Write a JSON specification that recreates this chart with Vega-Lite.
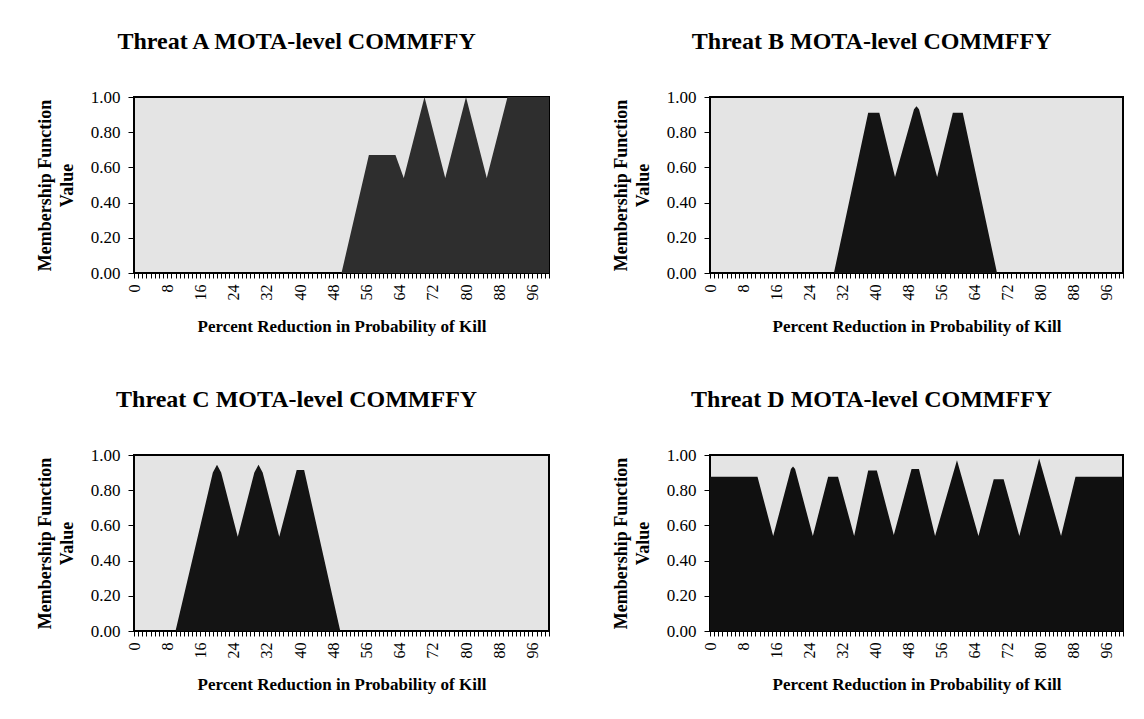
{
  "$schema": "https://vega.github.io/schema/vega-lite/v6.json",
  "background": "white",
  "padding": {"left": 35, "top": 29, "right": 5, "bottom": 5},
  "spacing": {"row": 52, "column": 53},
  "columns": 2,
  "config": {
    "view": {"fill": "#e4e4e4", "stroke": "#000000", "strokeWidth": 2},
    "axis": {
      "labelFont": "Liberation Serif",
      "titleFont": "Liberation Serif",
      "labelColor": "#000000",
      "titleColor": "#000000",
      "domainColor": "#000000",
      "tickColor": "#000000",
      "grid": false,
      "labelFontSize": 17,
      "titleFontWeight": "bold"
    },
    "title": {
      "font": "Liberation Serif",
      "fontSize": 24,
      "fontWeight": "bold",
      "color": "#000000",
      "anchor": "middle",
      "frame": "bounds",
      "offset": 34
    }
  },
  "datasets": {
    "A": [
      {"x": 0, "y": 0}, {"x": 50, "y": 0}, {"x": 56.6, "y": 0.67}, {"x": 63, "y": 0.67},
      {"x": 65, "y": 0.54}, {"x": 70, "y": 1}, {"x": 75, "y": 0.54}, {"x": 80, "y": 1},
      {"x": 85, "y": 0.54}, {"x": 90, "y": 1}, {"x": 100, "y": 1}
    ],
    "B": [
      {"x": 0, "y": 0}, {"x": 30, "y": 0}, {"x": 38.3, "y": 0.91}, {"x": 41, "y": 0.91},
      {"x": 44.8, "y": 0.545}, {"x": 49.4, "y": 0.93}, {"x": 50, "y": 0.947}, {"x": 50.6, "y": 0.93},
      {"x": 55, "y": 0.545}, {"x": 58.8, "y": 0.91}, {"x": 61.2, "y": 0.91}, {"x": 69.5, "y": 0},
      {"x": 100, "y": 0}
    ],
    "C": [
      {"x": 0, "y": 0}, {"x": 10, "y": 0}, {"x": 19, "y": 0.9}, {"x": 20, "y": 0.945},
      {"x": 21, "y": 0.9}, {"x": 25, "y": 0.535}, {"x": 29, "y": 0.9}, {"x": 30, "y": 0.945},
      {"x": 31, "y": 0.9}, {"x": 35, "y": 0.535}, {"x": 39.2, "y": 0.915}, {"x": 41, "y": 0.915},
      {"x": 49.7, "y": 0}, {"x": 100, "y": 0}
    ],
    "D": [
      {"x": 0, "y": 0.877}, {"x": 11.5, "y": 0.877}, {"x": 15.3, "y": 0.54}, {"x": 19.6, "y": 0.92},
      {"x": 20.1, "y": 0.934}, {"x": 20.6, "y": 0.92}, {"x": 24.9, "y": 0.54}, {"x": 28.6, "y": 0.877},
      {"x": 31, "y": 0.877}, {"x": 34.9, "y": 0.54}, {"x": 38.3, "y": 0.912}, {"x": 40.4, "y": 0.912},
      {"x": 44.5, "y": 0.545}, {"x": 48.8, "y": 0.92}, {"x": 50.6, "y": 0.92}, {"x": 54.5, "y": 0.54},
      {"x": 59.8, "y": 0.97}, {"x": 65, "y": 0.54}, {"x": 68.7, "y": 0.862}, {"x": 71.1, "y": 0.862},
      {"x": 74.9, "y": 0.54}, {"x": 79.7, "y": 0.98}, {"x": 85, "y": 0.54}, {"x": 88.5, "y": 0.877},
      {"x": 100, "y": 0.877}
    ]
  },
  "concat": [
    {
      "title": "Threat A MOTA-level COMMFFY",
      "width": 415, "height": 176,
      "data": {"name": "A"},
      "mark": {"type": "area", "color": "#2e2e2e", "interpolate": "linear"},
      "encoding": {
        "x": {"field": "x", "type": "quantitative", "scale": {"domain": [0, 100], "nice": false, "zero": false},
          "axis": {"values": [0,1,2,3,4,5,6,7,8,9,10,11,12,13,14,15,16,17,18,19,20,21,22,23,24,25,26,27,28,29,30,31,32,33,34,35,36,37,38,39,40,41,42,43,44,45,46,47,48,49,50,51,52,53,54,55,56,57,58,59,60,61,62,63,64,65,66,67,68,69,70,71,72,73,74,75,76,77,78,79,80,81,82,83,84,85,86,87,88,89,90,91,92,93,94,95,96,97,98,99,100],
            "labelExpr": "datum.value % 8 === 0 && datum.value <= 96 ? datum.label : ''",
            "labelAngle": -90, "labelOverlap": false, "labelFlush": false, "labelFontSize": 16,
            "tickSize": 5, "labelPadding": 6,
            "title": "Percent Reduction in Probability of Kill", "titleFontSize": 17, "titlePadding": 18}},
        "y": {"field": "y", "type": "quantitative", "scale": {"domain": [0, 1], "nice": false},
          "axis": {"values": [0, 0.2, 0.4, 0.6, 0.8, 1], "format": ".2f", "labelFlush": false,
            "tickSize": 6, "labelPadding": 8,
            "title": ["Membership Function", "Value"], "titleFontSize": 18, "titleLineHeight": 22, "titlePadding": 14}}
      }
    },
    {
      "title": "Threat B MOTA-level COMMFFY",
      "width": 413, "height": 176,
      "data": {"name": "B"},
      "mark": {"type": "area", "color": "#141414", "interpolate": "linear"},
      "encoding": {
        "x": {"field": "x", "type": "quantitative", "scale": {"domain": [0, 100], "nice": false, "zero": false},
          "axis": {"values": [0,1,2,3,4,5,6,7,8,9,10,11,12,13,14,15,16,17,18,19,20,21,22,23,24,25,26,27,28,29,30,31,32,33,34,35,36,37,38,39,40,41,42,43,44,45,46,47,48,49,50,51,52,53,54,55,56,57,58,59,60,61,62,63,64,65,66,67,68,69,70,71,72,73,74,75,76,77,78,79,80,81,82,83,84,85,86,87,88,89,90,91,92,93,94,95,96,97,98,99,100],
            "labelExpr": "datum.value % 8 === 0 && datum.value <= 96 ? datum.label : ''",
            "labelAngle": -90, "labelOverlap": false, "labelFlush": false, "labelFontSize": 16,
            "tickSize": 5, "labelPadding": 6,
            "title": "Percent Reduction in Probability of Kill", "titleFontSize": 17, "titlePadding": 18}},
        "y": {"field": "y", "type": "quantitative", "scale": {"domain": [0, 1], "nice": false},
          "axis": {"values": [0, 0.2, 0.4, 0.6, 0.8, 1], "format": ".2f", "labelFlush": false,
            "tickSize": 6, "labelPadding": 8,
            "title": ["Membership Function", "Value"], "titleFontSize": 18, "titleLineHeight": 22, "titlePadding": 14}}
      }
    },
    {
      "title": "Threat C MOTA-level COMMFFY",
      "width": 415, "height": 176,
      "data": {"name": "C"},
      "mark": {"type": "area", "color": "#141414", "interpolate": "linear"},
      "encoding": {
        "x": {"field": "x", "type": "quantitative", "scale": {"domain": [0, 100], "nice": false, "zero": false},
          "axis": {"values": [0,1,2,3,4,5,6,7,8,9,10,11,12,13,14,15,16,17,18,19,20,21,22,23,24,25,26,27,28,29,30,31,32,33,34,35,36,37,38,39,40,41,42,43,44,45,46,47,48,49,50,51,52,53,54,55,56,57,58,59,60,61,62,63,64,65,66,67,68,69,70,71,72,73,74,75,76,77,78,79,80,81,82,83,84,85,86,87,88,89,90,91,92,93,94,95,96,97,98,99,100],
            "labelExpr": "datum.value % 8 === 0 && datum.value <= 96 ? datum.label : ''",
            "labelAngle": -90, "labelOverlap": false, "labelFlush": false, "labelFontSize": 16,
            "tickSize": 5, "labelPadding": 6,
            "title": "Percent Reduction in Probability of Kill", "titleFontSize": 17, "titlePadding": 18}},
        "y": {"field": "y", "type": "quantitative", "scale": {"domain": [0, 1], "nice": false},
          "axis": {"values": [0, 0.2, 0.4, 0.6, 0.8, 1], "format": ".2f", "labelFlush": false,
            "tickSize": 6, "labelPadding": 8,
            "title": ["Membership Function", "Value"], "titleFontSize": 18, "titleLineHeight": 22, "titlePadding": 14}}
      }
    },
    {
      "title": "Threat D MOTA-level COMMFFY",
      "width": 413, "height": 176,
      "data": {"name": "D"},
      "mark": {"type": "area", "color": "#101010", "interpolate": "linear"},
      "encoding": {
        "x": {"field": "x", "type": "quantitative", "scale": {"domain": [0, 100], "nice": false, "zero": false},
          "axis": {"values": [0,1,2,3,4,5,6,7,8,9,10,11,12,13,14,15,16,17,18,19,20,21,22,23,24,25,26,27,28,29,30,31,32,33,34,35,36,37,38,39,40,41,42,43,44,45,46,47,48,49,50,51,52,53,54,55,56,57,58,59,60,61,62,63,64,65,66,67,68,69,70,71,72,73,74,75,76,77,78,79,80,81,82,83,84,85,86,87,88,89,90,91,92,93,94,95,96,97,98,99,100],
            "labelExpr": "datum.value % 8 === 0 && datum.value <= 96 ? datum.label : ''",
            "labelAngle": -90, "labelOverlap": false, "labelFlush": false, "labelFontSize": 16,
            "tickSize": 5, "labelPadding": 6,
            "title": "Percent Reduction in Probability of Kill", "titleFontSize": 17, "titlePadding": 18}},
        "y": {"field": "y", "type": "quantitative", "scale": {"domain": [0, 1], "nice": false},
          "axis": {"values": [0, 0.2, 0.4, 0.6, 0.8, 1], "format": ".2f", "labelFlush": false,
            "tickSize": 6, "labelPadding": 8,
            "title": ["Membership Function", "Value"], "titleFontSize": 18, "titleLineHeight": 22, "titlePadding": 14}}
      }
    }
  ]
}
